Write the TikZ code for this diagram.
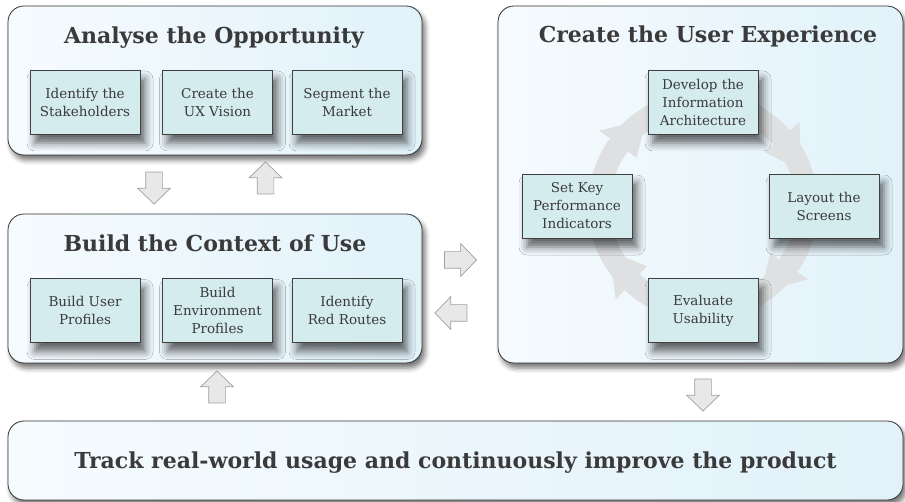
\documentclass[tikz,border=0pt]{standalone}
\usepackage{fontspec}
\setmainfont{DejaVu Serif}
\usetikzlibrary{shapes.arrows,shadows.blur,calc}

\definecolor{panelL}{RGB}{246,251,254}
\definecolor{panelR}{RGB}{225,242,250}
\definecolor{taskfill}{RGB}{213,236,238}
\definecolor{inkgray}{RGB}{58,58,58}
\definecolor{ringgray}{RGB}{223,224,226}
\definecolor{arrowfill}{RGB}{232,232,233}
\definecolor{arrowline}{RGB}{160,160,160}

\tikzset{
  panel/.style={draw=black!80, line width=0.8pt, rounded corners=16pt,
    left color=panelL, right color=panelR, inner sep=0pt,
    blur shadow={shadow xshift=3pt, shadow yshift=-5pt, shadow blur radius=5pt, shadow opacity=55}},
  heading/.style={anchor=base, text=inkgray, font=\bfseries\fontsize{22}{26}\selectfont},
  task/.style={draw=black!75, line width=0.8pt, fill=taskfill,
    minimum width=110pt, minimum height=64pt, inner sep=0pt, align=center,
    text=inkgray, font=\fontsize{13.5}{18}\selectfont,
    blur shadow={shadow xshift=5pt, shadow yshift=-9pt, shadow blur radius=8pt, shadow opacity=60}},
  flow/.style={single arrow, draw=arrowline, fill=arrowfill, line width=0.7pt,
    minimum height=32pt, minimum width=32pt, inner sep=8pt,
    single arrow head extend=8pt, single arrow tip angle=92}
}

\begin{document}
\begin{tikzpicture}[x=1pt,y=-1pt]
  \useasboundingbox (0,0) rectangle (905,502);

  % analyse the opportunity
  \node[panel, minimum width=414pt, minimum height=149pt] (analyse) at (215,80.5) {};
  \node[heading] (analyseTitle) at (214,44) {Analyse the Opportunity};
  \node[task] (stakeholders) at (85,102) {Identify the\\Stakeholders};
  \node[task] (vision) at (217.5,102) {Create the\\UX Vision};
  \node[task] (market) at (347,102) {Segment the\\Market};

  % build the context of use
  \node[panel, minimum width=414pt, minimum height=149pt] (context) at (215,288.5) {};
  \node[heading] (contextTitle) at (215,252) {Build the Context of Use};
  \node[task] (users) at (85,310.5) {Build User\\Profiles};
  \node[task] (environment) at (217.5,310.5) {Build\\Environment\\Profiles};
  \node[task] (routes) at (347,310.5) {Identify\\Red Routes};

  % create the user experience
  \node[panel, minimum width=405pt, minimum height=357pt] (experience) at (700.5,184.5) {};
  \node[heading] (experienceTitle) at (708,43) {Create the User Experience};
  \coordinate (hub) at (703,206);
  \draw[ringgray, line width=22pt] (hub) circle[radius=104pt];
  \foreach \a in {-41,35,133,216}
    \fill[ringgray] ([shift={(hub)}]\a:82) -- ([shift={(hub)}]\a+21:104) -- ([shift={(hub)}]\a:128) -- cycle;
  \node[task] (architecture) at (703,102) {Develop the\\Information\\Architecture};
  \node[task] (screens) at (824,206) {Layout the\\Screens};
  \node[task] (usability) at (703,310.5) {Evaluate\\Usability};
  \node[task] (indicators) at (577,206) {Set Key\\Performance\\Indicators};

  % track and improve
  \node[panel, minimum width=895pt, minimum height=79pt, text=inkgray,
        font=\bfseries\fontsize{22}{26}\selectfont, text depth=0pt] (track) at (455.5,460.5)
        {Track real-world usage and continuously improve the product};

  % block arrows
  \node[flow, shape border rotate=270] (toContext) at (154,184) {};
  \node[flow, shape border rotate=90] (toAnalyse) at (265.5,182) {};
  \node[flow] (toExperience) at (456.5,260) {};
  \node[flow, shape border rotate=180] (fromExperience) at (455,313) {};
  \node[flow, shape border rotate=90] (fromTrack) at (217,391) {};
  \node[flow, shape border rotate=270] (toTrack) at (703,391) {};
\end{tikzpicture}
\end{document}
